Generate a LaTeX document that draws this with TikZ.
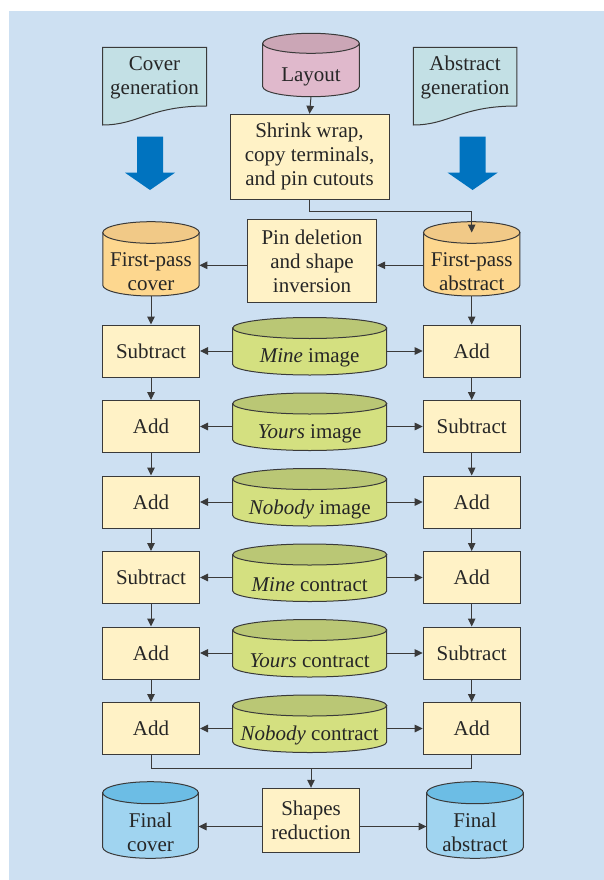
\documentclass[tikz,border=0pt]{standalone}
\usepackage{fontspec}
\setmainfont{Liberation Serif}
\usetikzlibrary{arrows.meta}

\definecolor{panel}{HTML}{CDE0F2}
\definecolor{edge}{HTML}{3A3A3A}
\definecolor{docfill}{HTML}{C3E0E5}
\definecolor{boxfill}{HTML}{FFF2C6}
\definecolor{layoutbody}{HTML}{E0B9CC}
\definecolor{layouttop}{HTML}{CBA6B6}
\definecolor{passbody}{HTML}{FDD78F}
\definecolor{passtop}{HTML}{F1C987}
\definecolor{greenbody}{HTML}{D4E080}
\definecolor{greentop}{HTML}{BAC775}
\definecolor{finalbody}{HTML}{A0D4F0}
\definecolor{finaltop}{HTML}{6CBDE5}
\definecolor{bigarrow}{HTML}{0073BF}

\tikzset{
  txt/.style={align=center, inner sep=0pt, text=black!85,
    font=\fontsize{21}{24}\selectfont},
  stepbox/.style={txt, draw=edge, fill=boxfill, line width=1pt},
  opbox/.style={stepbox, minimum width=97pt, minimum height=52pt},
  link/.style={draw=edge, line width=1pt},
  arr/.style={link, -{Triangle[length=8pt,width=7.5pt]}},
}

% drum: name, cx, ytop, ybot, width, ry, body colour, top colour, label
\newcommand\drum[9]{%
  \pgfmathsetmacro\dl{#2-#5/2}\pgfmathsetmacro\dr{#2+#5/2}%
  \pgfmathsetmacro\dt{#3+#6}\pgfmathsetmacro\db{#4-#6}%
  \pgfmathsetmacro\dh{#5/2}\pgfmathsetmacro\dc{(#3+2*#6+#4)/2+1.5}%
  \filldraw[fill=#7, draw=edge, line width=1pt]
    (\dl,\dt) -- (\dl,\db)
    arc[start angle=180, end angle=360, x radius=\dh pt, y radius=#6pt]
    -- (\dr,\dt) -- cycle;
  \filldraw[fill=#8, draw=edge, line width=1pt]
    (#2,\dt) ellipse[x radius=\dh pt, y radius=#6pt];
  \coordinate (#1-top) at (#2,\dt);
  \coordinate (#1-bot) at (#2,#4);
  \node[txt, minimum width=#5pt] (#1) at (#2,\dc) {#9};
}

% document sheet with a wavy lower edge: name, x1, x2, label
\newcommand\sheet[4]{%
  \pgfmathsetmacro\sw{#3-#2}%
  \filldraw[fill=docfill, draw=edge, line width=1pt]
    (#2,47.3) -- (#3,47.3) -- (#3,106)
    .. controls ({#3-0.55*\sw},106) and ({#2+0.35*\sw},125) .. (#2,125)
    -- cycle;
  \node[txt] (#1) at ({(#2+#3)/2},77.5) {#4};
}

% wide down arrow centred on x
\newcommand\bigdown[1]{%
  \fill[bigarrow] ({#1-13},136.7) -- ({#1+13},136.7) -- ({#1+13},172.7)
    -- ({#1+25},172.7) -- (#1,190) -- ({#1-25},172.7) -- ({#1-13},172.7) -- cycle;
}

\begin{document}
\begin{tikzpicture}[x=1pt, y=-1pt]
\useasboundingbox (0,0) rectangle (604,880);
\fill[panel] (9,11) rectangle (604,880);

% sources
\sheet{covgen}{102.5}{206.5}{Cover\\generation}
\sheet{absgen}{413.3}{516.8}{Abstract\\generation}
\bigdown{150}
\bigdown{472.6}

\drum{layout}{311}{33.3}{96.7}{96.6}{10}{layoutbody}{layouttop}{Layout}
\node[stepbox, minimum width=159pt, minimum height=85pt] (shrink) at (309.5,156.8)
  {Shrink wrap,\\copy terminals,\\and pin cutouts};

% first pass
\drum{fpc}{151}{221.7}{296}{96.4}{10.8}{passbody}{passtop}{First-pass\\cover}
\drum{fpa}{471.7}{221.7}{296}{96.4}{10.8}{passbody}{passtop}{First-pass\\abstract}
\node[stepbox, minimum width=129.4pt, minimum height=82.7pt] (pin) at (312,261.3)
  {Pin deletion\\and shape\\inversion};

% image and contract passes
\def\rowA{351}\def\rowB{426.5}\def\rowC{502}
\def\rowD{577.5}\def\rowE{653}\def\rowF{728.5}

\node[opbox] (l1) at (151,\rowA) {Subtract};
\node[opbox] (l2) at (151,\rowB) {Add};
\node[opbox] (l3) at (151,\rowC) {Add};
\node[opbox] (l4) at (151,\rowD) {Subtract};
\node[opbox] (l5) at (151,\rowE) {Add};
\node[opbox] (l6) at (151,\rowF) {Add};

\node[opbox] (r1) at (471.7,\rowA) {Add};
\node[opbox] (r2) at (471.7,\rowB) {Subtract};
\node[opbox] (r3) at (471.7,\rowC) {Add};
\node[opbox] (r4) at (471.7,\rowD) {Add};
\node[opbox] (r5) at (471.7,\rowE) {Subtract};
\node[opbox] (r6) at (471.7,\rowF) {Add};

\drum{m1}{309.7}{\rowA-33.5}{\rowA+24}{154}{10.5}{greenbody}{greentop}{\textit{Mine} image}
\drum{m2}{309.7}{\rowB-33.5}{\rowB+24}{154}{10.5}{greenbody}{greentop}{\textit{Yours} image}
\drum{m3}{309.7}{\rowC-33.5}{\rowC+24}{154}{10.5}{greenbody}{greentop}{\textit{Nobody} image}
\drum{m4}{309.7}{\rowD-33.5}{\rowD+24}{154}{10.5}{greenbody}{greentop}{\textit{Mine} contract}
\drum{m5}{309.7}{\rowE-33.5}{\rowE+24}{154}{10.5}{greenbody}{greentop}{\textit{Yours} contract}
\drum{m6}{309.7}{\rowF-33.5}{\rowF+24}{154}{10.5}{greenbody}{greentop}{\textit{Nobody} contract}

% final stage
\node[stepbox, minimum width=96.6pt, minimum height=64.4pt] (shapes) at (311,820.5)
  {Shapes\\reduction};
\drum{fc}{150.5}{781.7}{858.3}{95.6}{11}{finalbody}{finaltop}{Final\\cover}
\drum{fa}{475}{781.7}{858.3}{96.6}{11}{finalbody}{finaltop}{Final\\abstract}

% connectors
\draw[arr] (layout-bot) -- (shrink.north);
\draw[arr] (shrink.south) -- ++(0,12) -| (fpa-top);
\coordinate (pinR) at ([yshift=-4pt]pin.east);
\coordinate (pinL) at ([yshift=-4pt]pin.west);
\draw[arr] (fpa.west |- pinR) -- (pinR);
\draw[arr] (pinL) -- (fpc.east |- pinL);
\draw[arr] (fpc-bot) -- (l1.north);
\draw[arr] (fpa-bot) -- (r1.north);

\foreach \i in {1,...,6}{
  \draw[arr] (m\i.west |- l\i.east) -- (l\i.east);
  \draw[arr] (m\i.east |- r\i.west) -- (r\i.west);
}
\foreach \i/\j in {1/2,2/3,3/4,4/5,5/6}{
  \draw[arr] (l\i.south) -- (l\j.north);
  \draw[arr] (r\i.south) -- (r\j.north);
}

\coordinate (merge) at (shapes.north |- 0,768.3);
\draw[link] (l6.south) |- (merge) -| (r6.south);
\draw[arr] (merge) -- (shapes.north);
\coordinate (shL) at ([yshift=-6pt]shapes.west);
\coordinate (shR) at ([yshift=-6pt]shapes.east);
\draw[arr] (shL) -- (fc.east |- shL);
\draw[arr] (shR) -- (fa.west |- shR);
\end{tikzpicture}
\end{document}
